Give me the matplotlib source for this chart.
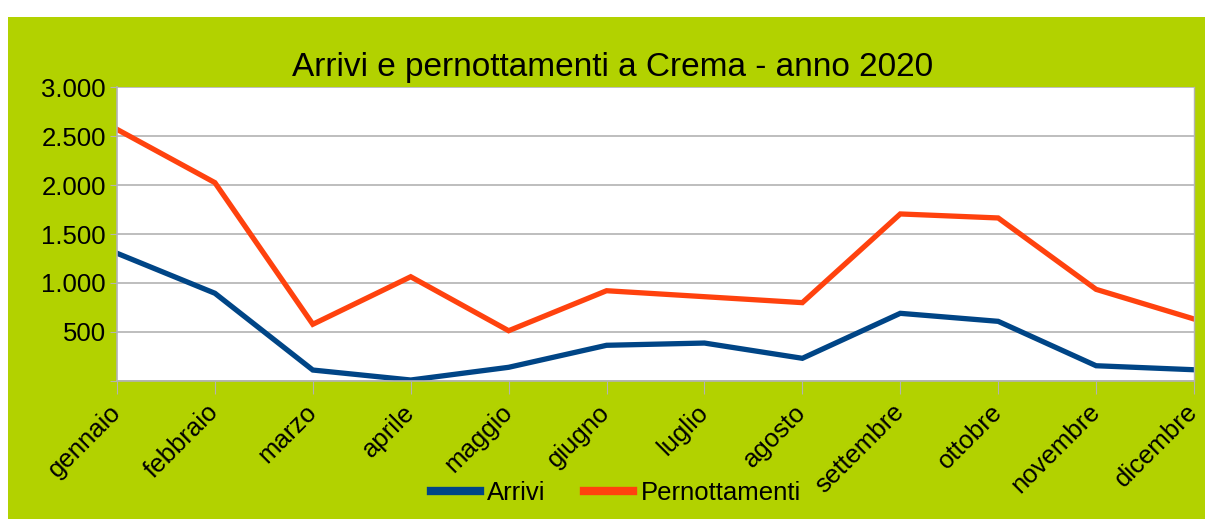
import matplotlib
matplotlib.use('Agg')
import matplotlib.pyplot as plt
from matplotlib.patches import Rectangle
from matplotlib.ticker import FuncFormatter

plt.rcParams['font.family'] = ['Liberation Sans', 'DejaVu Sans']

mesi = ['gennaio', 'febbraio', 'marzo', 'aprile', 'maggio', 'giugno',
        'luglio', 'agosto', 'settembre', 'ottobre', 'novembre', 'dicembre']
arrivi = [1303, 894, 109, 7, 137, 362, 385, 229, 689, 607, 153, 112]
pernottamenti = [2570, 2025, 577, 1063, 511, 920, 859, 798, 1705, 1664, 934, 631]

fig = plt.figure(figsize=(12.05, 5.19), dpi=100)
fig.patch.set_facecolor('white')
# sfondo verde del grafico
fig.patches.append(Rectangle((8 / 1205, 0), 1, (519 - 17) / 519,
                             transform=fig.transFigure, facecolor='#b2d200',
                             edgecolor='none', zorder=-1))

ax = fig.add_axes([117 / 1205, 1 - 380.7 / 519, 1077 / 1205, 293.4 / 519])
ax.set_facecolor('white')

x = list(range(len(mesi)))
ax.plot(x, arrivi, color='#004586', linewidth=3.8, label='Arrivi', solid_joinstyle='miter')
ax.plot(x, pernottamenti, color='#ff420e', linewidth=3.8, label='Pernottamenti', solid_joinstyle='miter')

ax.set_xlim(0, len(mesi) - 1)
ax.set_ylim(0, 3000)
ax.set_yticks(range(0, 3001, 500))
ax.yaxis.set_major_formatter(FuncFormatter(
    lambda v, p: '' if v == 0 else f'{int(v):,}'.replace(',', '.')))
ax.grid(axis='y', color='#b3b3b3', linewidth=1.2)
ax.set_axisbelow(True)

ax.set_xticks(x)
ax.set_xticklabels(mesi, rotation=45, ha='right', va='center', rotation_mode='anchor')
ax.tick_params(axis='x', length=9, color='#b3b3b3', labelsize=18.5, pad=11)
ax.tick_params(axis='y', length=5, color='#b3b3b3', labelsize=18.5, pad=3)

for s in ['left', 'bottom']:
    ax.spines[s].set_color('#b3b3b3')
    ax.spines[s].set_linewidth(1.2)
ax.spines['top'].set_visible(False)
ax.spines['right'].set_color('#b3b3b3')
ax.spines['right'].set_linewidth(1.0)

fig.text(613 / 1205, 1 - 67 / 519, 'Arrivi e pernottamenti a Crema - anno 2020',
         ha='center', va='center', fontsize=24)

leg = fig.legend(loc='center', bbox_to_anchor=(616 / 1205, 1 - 493 / 519), ncol=2,
                 frameon=False, fontsize=18.5, handlelength=1.9, handletextpad=0.3,
                 columnspacing=1.5)
for h in leg.get_lines():
    h.set_linewidth(6)

fig.savefig('out.png', dpi=100)
